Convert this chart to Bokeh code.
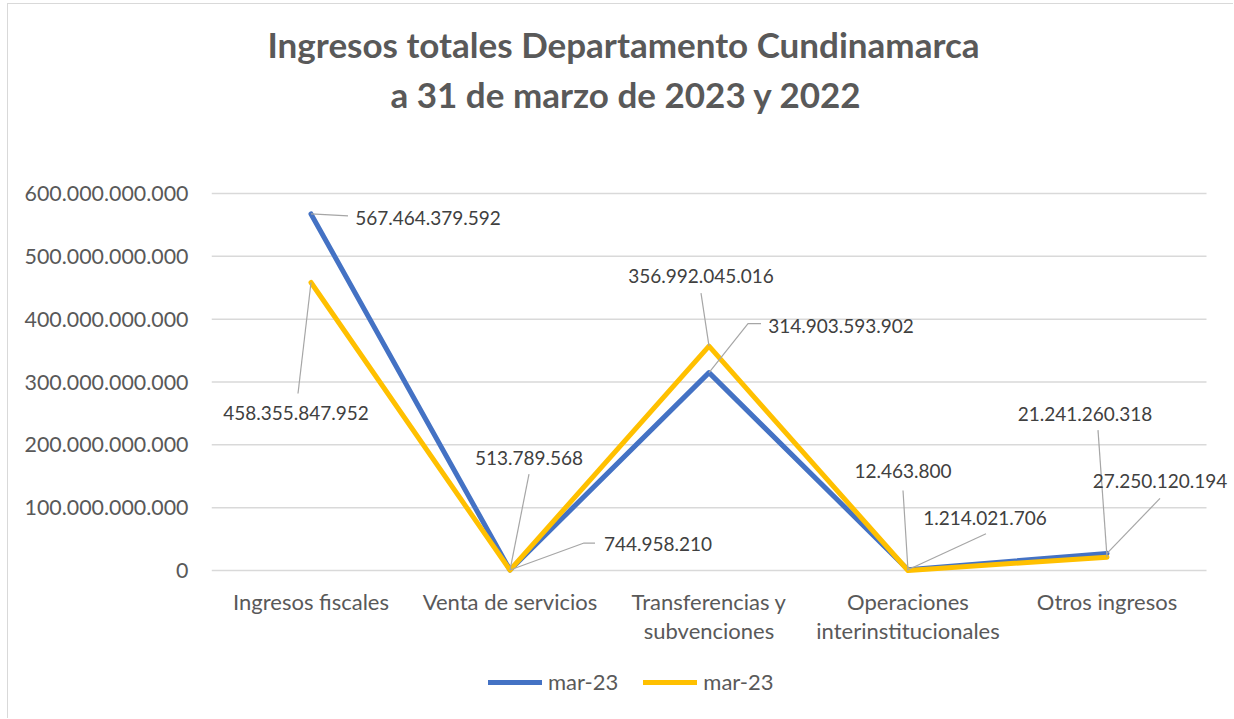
from bokeh.plotting import figure
from bokeh.models import (ColumnDataSource, Range1d, FixedTicker, Title, Legend, LegendItem)
from bokeh.core.properties import value
from bokeh.embed import file_html
from bokeh.resources import INLINE

# ---------------- data ----------------
CATEGORIES = ["Ingresos fiscales", "Venta de servicios", "Transferencias y subvenciones",
              "Operaciones interinstitucionales", "Otros ingresos"]
CATEGORY_LABELS = ["Ingresos fiscales", "Venta de servicios", "Transferencias y\nsubvenciones",
                   "Operaciones\ninterinstitucionales", "Otros ingresos"]
SERIES_BLUE_NAME = "mar-23"
SERIES_BLUE = [567464379592, 744958210, 314903593902, 1214021706, 27250120194]
SERIES_YELLOW_NAME = "mar-23"
SERIES_YELLOW = [458355847952, 513789568, 356992045016, 12463800, 21241260318]
Y_TICKS = [0, 100000000000, 200000000000, 300000000000, 400000000000, 500000000000, 600000000000]
Y_TICK_LABELS = ["0", "100.000.000.000", "200.000.000.000", "300.000.000.000",
                 "400.000.000.000", "500.000.000.000", "600.000.000.000"]
TITLE_1 = "Ingresos totales Departamento Cundinamarca"
TITLE_2 = "a 31 de marzo de 2023 y 2022"

# ---------------- styles / layout ----------------
FONT = "Lato"
BLUE = "#4472C4"
YELLOW = "#FFC000"
GRID = "#D9D9D9"
AXIS_TXT = "#595959"
LABEL_TXT = "#404040"
LEADER = "#A6A6A6"

W, H = 1226, 715
LEFT, RIGHT, TOP, BOTTOM = 203, 0, 116, 0
FRAME_W = W - LEFT - RIGHT
FRAME_H = H - TOP - BOTTOM
CAT_PX = 199            # pixel width of one category slot
PX_600 = 377            # pixels from zero line to 600 bn gridline
ZERO_FROM_TOP = 450     # pixels from frame top to zero line
UNITS_PER_PX = Y_TICKS[-1] / PX_600
Y_START = -(FRAME_H - ZERO_FROM_TOP) * UNITS_PER_PX
Y_END = ZERO_FROM_TOP * UNITS_PER_PX
X_END = FRAME_W / CAT_PX

# label offsets (pixels, right / down) for label centres, and leader polylines
BLUE_LBL_OFF = [(117, 4), (148, -26), (132, -47), (77, -52), (53, -72)]
YELLOW_LBL_OFF = [(-15, 131), (19, -112), (-8, -70), (-5, -99), (-22, -143)]
BLUE_LEADER = [[(0, 0), (37, 2)], [(0, 0), (74, -27), (85, -27)], [(0, 0), (39, -49), (52, -49)],
               [(0, 0), (78, -36)], [(0, 0), (53, -55)]]
YELLOW_LEADER = [[(0, 0), (-13, 111)], [(0, 0), (19, -96)], [(0, 0), (-8, -53)],
                 [(0, 0), (-5, -80)], [(0, 0), (-9, -127)]]
CAT_LINE1_OFF = 31
CAT_LINE_STEP = 29


def fmt(v):
    return f"{v:,}".replace(",", ".")


X = [i + 0.5 for i in range(len(CATEGORIES))]   # category slot centres

p = figure(x_range=Range1d(0, X_END), y_range=Range1d(Y_START, Y_END),
           width=W, height=H, output_backend="svg", toolbar_location=None,
           min_border_left=LEFT, min_border_right=RIGHT, min_border_top=TOP,
           min_border_bottom=BOTTOM, title=None)
p.styles = {"margin-left": "7px", "margin-top": "3px",
            "border-left": "1px solid #D9D9D9", "border-top": "1px solid #D9D9D9"}
p.outline_line_color = None
p.background_fill_color = "white"
p.border_fill_color = "white"

p.add_layout(Title(text=TITLE_2, align="left", offset=179, text_font=FONT, text_font_size="35px",
                   text_font_style="bold", text_color=AXIS_TXT, standoff=11), "above")
p.add_layout(Title(text=TITLE_1, align="left", offset=56, text_font=FONT, text_font_size="35px",
                   text_font_style="bold", text_color=AXIS_TXT, standoff=1), "above")

# axes
p.yaxis.ticker = FixedTicker(ticks=Y_TICKS)
p.yaxis.major_label_overrides = dict(zip(Y_TICKS, Y_TICK_LABELS))
p.yaxis.axis_line_color = None
p.yaxis.major_tick_line_color = None
p.yaxis.minor_tick_line_color = None
p.yaxis.major_tick_out = 0
p.yaxis.major_tick_in = 0
p.yaxis.major_label_standoff = 23
p.yaxis.major_label_text_font = FONT
p.yaxis.major_label_text_font_size = "21.4px"
p.yaxis.major_label_text_color = AXIS_TXT
p.xaxis.visible = False
p.xgrid.grid_line_color = None
p.ygrid.grid_line_color = None

# horizontal gridlines over the category slots
p.segment(x0=0, x1=len(CATEGORIES), y0=Y_TICKS, y1=Y_TICKS, line_color=GRID, line_width=1.5)

# category labels (one text per line)
cx, cy, ct, cyo = [], [], [], []
for xc, lab in zip(X, CATEGORY_LABELS):
    for k, line in enumerate(lab.split("\n")):
        cx.append(xc)
        cy.append(Y_TICKS[0])
        ct.append(line)
        cyo.append(CAT_LINE1_OFF + k * CAT_LINE_STEP)
p.text(x=cx, y=cy, text=ct, y_offset=cyo, text_align="center", text_baseline="middle",
       text_font=value(FONT), text_font_size="22px", text_color=AXIS_TXT)

# lines
r_blue = p.line(X, SERIES_BLUE, line_color=BLUE, line_width=5, line_join="round",
                line_cap="round")
r_yellow = p.line(X, SERIES_YELLOW, line_color=YELLOW, line_width=5, line_join="round",
                  line_cap="round")

# leader lines
xs, ys = [], []
for series, leaders in ((SERIES_BLUE, BLUE_LEADER), (SERIES_YELLOW, YELLOW_LEADER)):
    for xc, v, pts in zip(X, series, leaders):
        xs.append([xc + dx / CAT_PX for dx, dy in pts])
        ys.append([v - dy * UNITS_PER_PX for dx, dy in pts])
p.multi_line(xs, ys, line_color=LEADER, line_width=1.2)

# data labels
lbl = ColumnDataSource(dict(
    x=X + X,
    y=SERIES_BLUE + SERIES_YELLOW,
    text=[fmt(v) for v in SERIES_BLUE + SERIES_YELLOW],
    xo=[o[0] for o in BLUE_LBL_OFF + YELLOW_LBL_OFF],
    yo=[o[1] for o in BLUE_LBL_OFF + YELLOW_LBL_OFF],
))
p.text(x="x", y="y", text="text", x_offset="xo", y_offset="yo", source=lbl,
       text_align="center", text_baseline="middle", text_font=value(FONT),
       text_font_size="19px", text_color=LABEL_TXT)

legend = Legend(items=[LegendItem(label=SERIES_BLUE_NAME, renderers=[r_blue]),
                       LegendItem(label=SERIES_YELLOW_NAME, renderers=[r_yellow])],
                orientation="horizontal", location=(277, 24),
                glyph_width=54, glyph_height=24, label_standoff=6, spacing=25,
                padding=0, margin=0, border_line_color=None, background_fill_alpha=0,
                label_text_font=FONT, label_text_font_size="22px", label_text_color=AXIS_TXT)
p.add_layout(legend)

open("out.html", "w").write(file_html(p, INLINE))
